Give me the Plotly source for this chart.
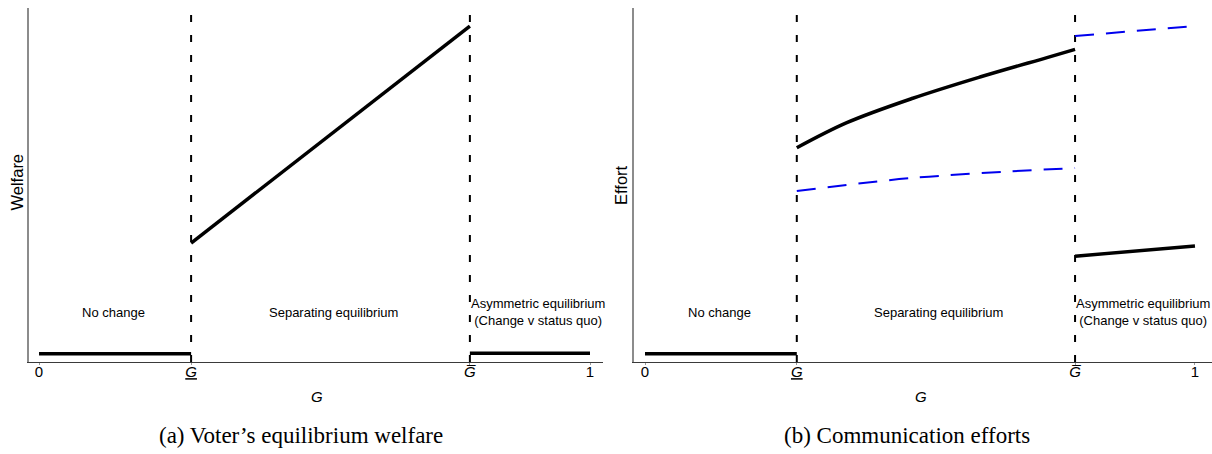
import plotly.graph_objects as go

# ---- data ----
G_LOW = 0.276
G_HIGH = 0.782
tick_vals = [0, G_LOW, G_HIGH, 1]
tick_text = ["0", "<u><i>G</i></u>", "<i>G\u0305</i>", "1"]

# Panel (a): voter's equilibrium welfare
welfare_nochange_x = [0.0, G_LOW]
welfare_nochange_y = [0.023, 0.023]
welfare_sep_x = [G_LOW, G_HIGH]
welfare_sep_y = [0.336, 0.949]
welfare_asym_x = [G_HIGH, 1.0]
welfare_asym_y = [0.025, 0.025]

# Panel (b): communication efforts
effort_nochange_x = [0.0, G_LOW]
effort_nochange_y = [0.023, 0.023]
effort_sep_black_x = [G_LOW, 0.367, 0.487, 0.609, 0.731, G_HIGH]
effort_sep_black_y = [0.605, 0.676, 0.745, 0.805, 0.860, 0.883]
effort_sep_blue_x = [G_LOW, 0.487, G_HIGH]
effort_sep_blue_y = [0.483, 0.520, 0.548]
effort_asym_blue_x = [G_HIGH, 1.0]
effort_asym_blue_y = [0.921, 0.949]
effort_asym_black_x = [G_HIGH, 1.0]
effort_asym_black_y = [0.299, 0.328]

vline_y = [0, 1]
region_labels = ["No change", "Separating equilibrium", "Asymmetric equilibrium<br>(Change v status quo)"]
region_label_x = [0.136, 0.534, 0.906]

W, H = 1212, 454


def px(x):
    return x / W


def py(y):
    return 1 - y / H


fig = go.Figure()

BLACK = dict(color="black", width=3.5)
VDASH = dict(color="black", width=2, dash="7px,13px")
BLUE = dict(color="#0000ee", width=2, dash="19px,12px")


def add(x, y, line, xa, ya, shape="linear"):
    fig.add_trace(go.Scatter(x=x, y=y, mode="lines", line=dict(**line, shape=shape),
                             xaxis=xa, yaxis=ya, showlegend=False, hoverinfo="skip"))


# panel a
for gx in (G_LOW, G_HIGH):
    add([gx, gx], vline_y, VDASH, "x", "y")
add(welfare_nochange_x, welfare_nochange_y, BLACK, "x", "y")
add(welfare_sep_x, welfare_sep_y, BLACK, "x", "y")
add(welfare_asym_x, welfare_asym_y, BLACK, "x", "y")

# panel b
for gx in (G_LOW, G_HIGH):
    add([gx, gx], vline_y, VDASH, "x2", "y2")
add(effort_nochange_x, effort_nochange_y, BLACK, "x2", "y2")
add(effort_sep_blue_x, effort_sep_blue_y, BLUE, "x2", "y2", "spline")
add(effort_sep_black_x, effort_sep_black_y, BLACK, "x2", "y2", "spline")
add(effort_asym_blue_x, effort_asym_blue_y, BLUE, "x2", "y2")
add(effort_asym_black_x, effort_asym_black_y, BLACK, "x2", "y2")

SANS = "Liberation Sans, Arial, sans-serif"
SERIF = "Liberation Serif, Times New Roman, serif"

xaxis_common = dict(
    tickvals=tick_vals, ticktext=tick_text, showgrid=False, zeroline=False,
    showline=True, linecolor="#3a3a3a", linewidth=1.3,
    ticks="outside", ticklen=2, tickcolor="#999", tickwidth=1,
    ticklabelstandoff=-6,
    tickfont=dict(family=SANS, size=15, color="black"),
)
yaxis_common = dict(
    range=[0, 1], showgrid=False, zeroline=False, showticklabels=False,
    showline=True, linecolor="#8c8c8c", linewidth=1.5, ticks="",
)

ydom = [py(362), py(8)]
fig.update_layout(
    width=W, height=H, margin=dict(l=0, r=0, t=0, b=0),
    paper_bgcolor="white", plot_bgcolor="white",
    xaxis=dict(domain=[px(29), px(603)], range=[-0.0182, 1.0236], anchor="y", **xaxis_common),
    yaxis=dict(domain=ydom, anchor="x", **yaxis_common),
    xaxis2=dict(domain=[px(634), 1.0], range=[-0.02, 1.031], anchor="y2", **xaxis_common),
    yaxis2=dict(domain=ydom, anchor="x2", **yaxis_common),
)

ann = []
for xr, yr in (("x", "y"), ("x2", "y2")):
    for t, lx in zip(region_labels, region_label_x):
        ann.append(dict(x=lx, y=0.14, xref=xr, yref=yr, text=t, showarrow=False,
                        font=dict(family=SANS, size=13, color="black"),
                        xanchor="center", yanchor="middle", align="center"))


def paper_text(x, y, text, size, family, angle=0):
    ann.append(dict(x=px(x), y=py(y), xref="paper", yref="paper", text=text,
                    textangle=angle, showarrow=False, xanchor="center", yanchor="middle",
                    font=dict(family=family, size=size, color="black")))


# axis titles
paper_text(16.5, 182, "Welfare", 16.5, SANS, -90)
paper_text(621, 185, "Effort", 16.5, SANS, -90)
paper_text(317, 396, "<i>G</i>", 15, SANS)
paper_text(921, 396, "<i>G</i>", 15, SANS)
# captions
paper_text(301, 435, "(a) Voter’s equilibrium welfare", 23, SERIF)
paper_text(907, 435, "(b) Communication efforts", 23, SERIF)
fig.update_layout(annotations=ann)

# remove the default page margin so the figure fills the 1212x454 window exactly
fig.write_html(
    "out.html",
    config={"displayModeBar": False},
    post_script=(
        "document.documentElement.style.overflow='hidden';"
        "document.body.style.margin='0';document.body.style.overflow='hidden';"
    ),
)
